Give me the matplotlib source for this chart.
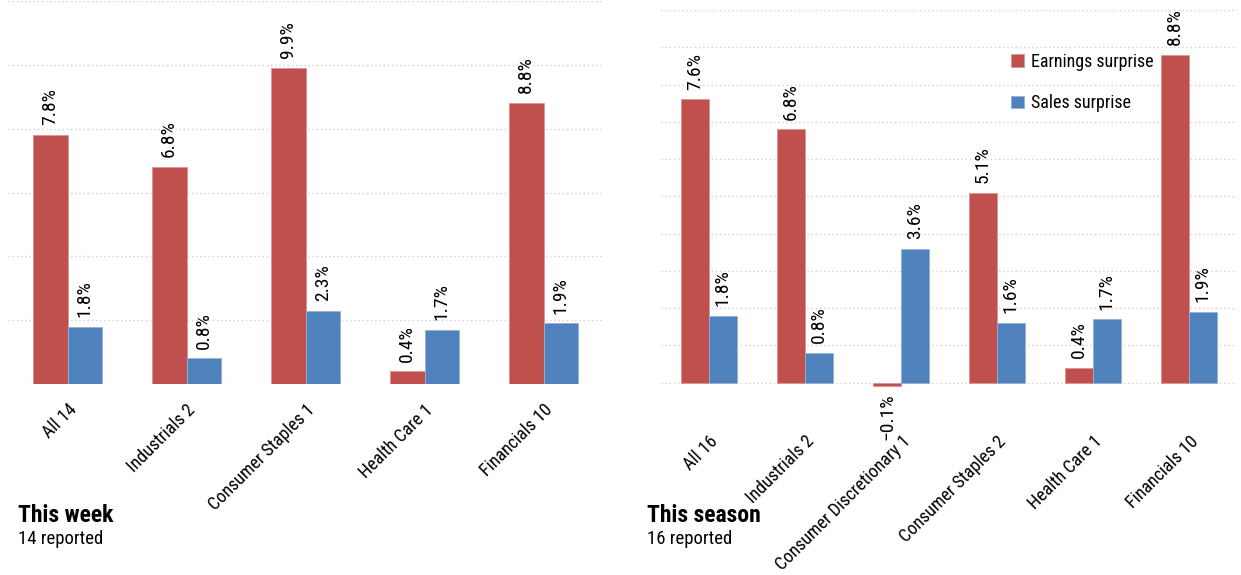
import numpy as np
import matplotlib
matplotlib.use("Agg")
import matplotlib.pyplot as plt
from matplotlib import font_manager

# condensed sans, first one that is installed
installed = {f.name for f in font_manager.fontManager.ttflist}
cands = ["Roboto Condensed", "Archivo Narrow", "Barlow Semi Condensed", "Sofia Sans Condensed"]
FONT = next((c for c in cands if c in installed), "DejaVu Sans")
plt.rcParams['font.family'] = [FONT, 'DejaVu Sans']

# This week
week_cats = ["All 14", "Industrials 2", "Consumer Staples 1", "Health Care 1", "Financials 10"]
week_earn = [7.8, 6.8, 9.9, 0.4, 8.8]
week_sales = [1.8, 0.8, 2.3, 1.7, 1.9]

# This season
season_cats = ["All 16", "Industrials 2", "Consumer Discretionary 1", "Consumer Staples 2",
               "Health Care 1", "Financials 10"]
season_earn = [7.6, 6.8, -0.1, 5.1, 0.4, 8.8]
season_sales = [1.8, 0.8, 3.6, 1.6, 1.7, 1.9]

RED = "#C0504D"
BLUE = "#4F81BD"
W = 0.29

fig = plt.figure(figsize=(12.41, 5.75), dpi=100)
ax1 = fig.add_axes([8 / 1241, 1 - 384 / 575, 595 / 1241, 383 / 575])
ax2 = fig.add_axes([661 / 1241, 1 - 420 / 575, 576 / 1241, 410 / 575])


def draw(ax, cats, earn, sales, ylim, step, pad):
    x = np.arange(len(cats))
    b1 = ax.bar(x - W / 2, earn, W, color=RED, edgecolor="#d99694", linewidth=0.6,
                label="Earnings surprise")
    b2 = ax.bar(x + W / 2, sales, W, color=BLUE, edgecolor="#95b3d7", linewidth=0.6,
                label="Sales surprise")
    for bars, vals in ((b1, earn), (b2, sales)):
        for rect, v in zip(bars, vals):
            ax.annotate(f"{v:.1f}%".replace("-", "\u2212"),
                        (rect.get_x() + rect.get_width() / 2, v),
                        xytext=(0, 7 if v >= 0 else -5), textcoords="offset points",
                        rotation=90, ha="center", va="bottom" if v >= 0 else "top",
                        fontsize=14)
    ax.set_xlim(-0.5, len(cats) - 0.5)
    ax.set_ylim(*ylim)
    ax.set_yticks(np.arange(ylim[0], ylim[1] + 0.01, step))
    ax.yaxis.grid(True, linestyle=(0, (1, 2)), color="#d0d0d0", linewidth=1)
    ax.set_axisbelow(True)
    ax.tick_params(axis="y", left=False, labelleft=False)
    ax.tick_params(axis="x", length=0, pad=pad)
    ax.set_xticks(x)
    ax.set_xticklabels(cats, rotation=45, ha="right", rotation_mode="anchor", fontsize=13)
    for s in ax.spines.values():
        s.set_visible(False)


draw(ax1, week_cats, week_earn, week_sales, (0, 12), 2, 12)
draw(ax2, season_cats, season_earn, season_sales, (-1, 10), 1, 9)

ax2.legend(loc="upper left", bbox_to_anchor=(0.58, 0.935), frameon=False, fontsize=13,
           handlelength=0.7, handleheight=0.7, handletextpad=0.4, labelspacing=1.3)

fig.text(18 / 1241, 1 - 515 / 575, "This week", fontsize=17, fontweight="bold", va="center")
fig.text(18 / 1241, 1 - 539 / 575, "14 reported", fontsize=13.5, va="center")
fig.text(647 / 1241, 1 - 515 / 575, "This season", fontsize=17, fontweight="bold", va="center")
fig.text(647 / 1241, 1 - 539 / 575, "16 reported", fontsize=13.5, va="center")

fig.savefig("out.png", dpi=100)
